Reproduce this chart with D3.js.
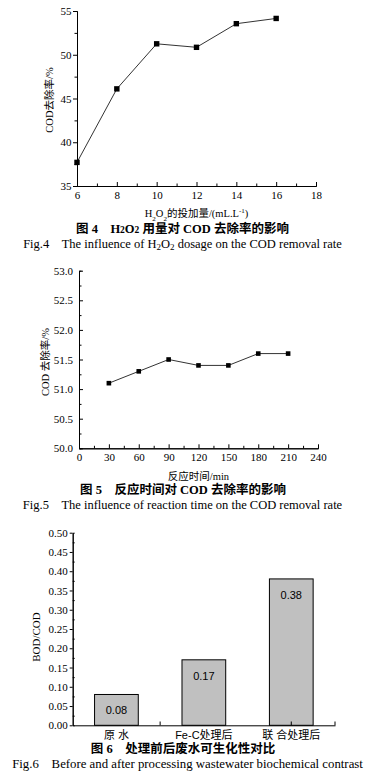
<!DOCTYPE html>
<html><head><meta charset="utf-8">
<script src="https://cdn.jsdelivr.net/npm/d3@7"></script>
<style>
body{margin:0;background:#fff;}
svg{display:block;}
text{font-family:"Liberation Serif","Times New Roman","Noto Sans CJK SC",serif;fill:#000;}
.cjk{font-family:"Liberation Serif","Noto Sans CJK SC",serif;}
.sans{font-family:"Liberation Sans",Arial,"Noto Sans CJK SC",sans-serif;}
</style></head>
<body>
<script>
// ---- data ----
const dosage = [6, 8, 10, 12, 14, 16];
const dosageRemoval = [37.7, 46.1, 51.25, 50.85, 53.55, 54.15];
const dosageXTicks = [6, 8, 10, 12, 14, 16, 18];
const dosageYTicks = [35, 40, 45, 50, 55];

const time = [30, 60, 90, 120, 150, 180, 210];
const timeRemoval = [51.1, 51.3, 51.5, 51.4, 51.4, 51.6, 51.6];
const timeXTicks = [0, 30, 60, 90, 120, 150, 180, 210, 240];
const timeYTicks = [50.0, 50.5, 51.0, 51.5, 52.0, 52.5, 53.0];

const stages = ["原 水", "Fe-C处理后", "联 合处理后"];
const bodCod = [0.08, 0.17, 0.38];
const ratioYTicks = [0, 0.05, 0.10, 0.15, 0.20, 0.25, 0.30, 0.35, 0.40, 0.45, 0.50];

const W = 367, H = 777;
const svg = d3.select("body").append("svg").attr("width", W).attr("height", H);

function styleAxis(g){
  g.select(".domain").attr("stroke","#000").attr("stroke-width",1);
  g.selectAll(".tick line").attr("stroke","#000");
  g.selectAll("text").attr("font-size",11).attr("fill","#000");
  g.attr("font-family",null);
}

// ================= Chart 1 =================
{
  const x = d3.scaleLinear().domain([6,18]).range([77,316]);
  const y = d3.scaleLinear().domain([35,55]).range([186,11]);
  svg.append("g").attr("transform","translate(0,186)")
    .call(d3.axisBottom(x).tickValues(d3.range(7,18,2)).tickSize(-2.5).tickFormat(""))
    .call(styleAxis);
  svg.append("g").attr("transform","translate(77,0)")
    .call(d3.axisLeft(y).tickValues([37.5,42.5,47.5,52.5]).tickSize(2.5).tickFormat(""))
    .call(styleAxis);
  svg.append("g").attr("transform","translate(0,186)")
    .call(d3.axisBottom(x).tickValues(dosageXTicks).tickSize(-4).tickPadding(5).tickSizeOuter(0))
    .call(styleAxis);
  svg.append("g").attr("transform","translate(77,0)")
    .call(d3.axisLeft(y).tickValues(dosageYTicks).tickSize(4).tickPadding(1.5).tickSizeOuter(0))
    .call(styleAxis);
  const line = d3.line().x((d,i)=>x(dosage[i])).y(d=>y(d));
  svg.append("path").datum(dosageRemoval).attr("d",line).attr("fill","none").attr("stroke","#333").attr("stroke-width",1);
  svg.append("g").selectAll("rect").data(dosageRemoval).join("rect")
    .attr("x",(d,i)=>x(dosage[i])-2.7).attr("y",d=>y(d)-2.7).attr("width",5.4).attr("height",5.4).attr("fill","#000");
  svg.append("text").attr("class","cjk").attr("transform","translate(53,100) rotate(-90)")
    .attr("text-anchor","middle").attr("font-size",10.5).text("COD去除率/%");
  const xl = svg.append("text").attr("class","cjk").attr("x",196.5).attr("y",217).attr("text-anchor","middle").attr("font-size",10.5);
  xl.append("tspan").text("H");
  xl.append("tspan").attr("baseline-shift","sub").attr("font-size",7).text("2");
  xl.append("tspan").text("O");
  xl.append("tspan").attr("baseline-shift","sub").attr("font-size",7).text("2");
  xl.append("tspan").text("的投加量/(mL.L");
  xl.append("tspan").attr("baseline-shift","super").attr("font-size",7).text("-1");
  xl.append("tspan").text(")");
  const c1 = svg.append("text").attr("class","cjk").attr("x",182.5).attr("y",232.5).attr("text-anchor","middle").attr("font-size",12.5).attr("font-weight","bold");
  c1.append("tspan").text("图 4\u00a0\u00a0\u00a0\u00a0H");
  c1.append("tspan").attr("font-size",9.5).text("2");
  c1.append("tspan").text("O");
  c1.append("tspan").attr("font-size",9.5).text("2");
  c1.append("tspan").text(" 用量对 COD 去除率的影响");
  const f1 = svg.append("text").attr("x",182.5).attr("y",248).attr("text-anchor","middle").attr("font-size",12.5);
  f1.append("tspan").text("Fig.4\u00a0\u00a0\u00a0\u00a0The influence of H");
  f1.append("tspan").attr("font-size",9).attr("dy",2).text("2");
  f1.append("tspan").attr("dy",-2).text("O");
  f1.append("tspan").attr("font-size",9).attr("dy",2).text("2");
  f1.append("tspan").attr("dy",-2).text(" dosage on the COD removal rate");
}

// ================= Chart 2 =================
{
  const x = d3.scaleLinear().domain([0,240]).range([79,318]);
  const y = d3.scaleLinear().domain([50,53]).range([448.3,270.7]);
  svg.append("g").attr("transform","translate(0,448.3)")
    .call(d3.axisBottom(x).tickValues(d3.range(15,240,30)).tickSize(-2.5).tickFormat(""))
    .call(styleAxis);
  svg.append("g").attr("transform","translate(79,0)")
    .call(d3.axisLeft(y).tickValues([50.25,50.75,51.25,51.75,52.25,52.75]).tickSize(-2.5).tickFormat(""))
    .call(styleAxis);
  svg.append("g").attr("transform","translate(0,448.3)")
    .call(d3.axisBottom(x).tickValues(timeXTicks).tickSize(-4).tickPadding(5).tickSizeOuter(0))
    .call(styleAxis);
  svg.append("g").attr("transform","translate(79,0)")
    .call(d3.axisLeft(y).tickValues(timeYTicks).tickSize(-4).tickPadding(6).tickFormat(d3.format(".1f")).tickSizeOuter(0))
    .call(styleAxis);
  const line = d3.line().x((d,i)=>x(time[i])).y(d=>y(d));
  svg.append("path").datum(timeRemoval).attr("d",line).attr("fill","none").attr("stroke","#333").attr("stroke-width",1);
  svg.append("g").selectAll("rect").data(timeRemoval).join("rect")
    .attr("x",(d,i)=>x(time[i])-2.3).attr("y",d=>y(d)-2.3).attr("width",4.6).attr("height",4.6).attr("fill","#000");
  svg.append("text").attr("class","cjk").attr("transform","translate(49,362) rotate(-90)")
    .attr("text-anchor","middle").attr("font-size",10.5).text("COD 去除率/%");
  svg.append("text").attr("class","cjk").attr("x",198.5).attr("y",480).attr("text-anchor","middle").attr("font-size",10.5).text("反应时间/min");
  svg.append("text").attr("class","cjk").attr("x",183).attr("y",493.5).attr("text-anchor","middle").attr("font-size",12.5).attr("font-weight","bold")
    .text("图 5\u00a0\u00a0\u00a0\u00a0反应时间对 COD 去除率的影响");
  svg.append("text").attr("x",182.5).attr("y",509).attr("text-anchor","middle").attr("font-size",12.5)
    .text("Fig.5\u00a0\u00a0\u00a0\u00a0The influence of reaction time on the COD removal rate");
}

// ================= Chart 3 =================
{
  const x = d3.scaleBand().domain(stages).range([72.7,335]).paddingInner(0.5).paddingOuter(0.25);
  const y = d3.scaleLinear().domain([0,0.5]).range([725.3,532.7]);
  svg.append("g").attr("transform","translate(72.7,0)")
    .call(d3.axisLeft(y).tickValues(d3.range(0.025,0.5,0.05)).tickSize(-2).tickFormat(""))
    .call(styleAxis);
  svg.append("g").attr("transform","translate(72.7,0)")
    .call(d3.axisLeft(y).tickValues(ratioYTicks).tickSize(3).tickPadding(2).tickFormat(d3.format(".2f")).tickSizeOuter(0))
    .call(styleAxis);
  const bars = svg.append("g");
  bars.selectAll("rect").data(bodCod).join("rect")
    .attr("x",(d,i)=>x(stages[i])).attr("y",d=>y(d))
    .attr("width",x.bandwidth()).attr("height",d=>y(0)-y(d))
    .attr("fill","#c0c0c0").attr("stroke","#000").attr("stroke-width",1);
  bars.selectAll("text").data(bodCod).join("text").attr("class","sans")
    .attr("x",(d,i)=>x(stages[i])+x.bandwidth()/2).attr("y",d=>y(d)+20)
    .attr("text-anchor","middle").attr("font-size",11).text(d=>d3.format(".2f")(d));
  const step = x.step();
  const gx = svg.append("g").attr("transform","translate(0,725.3)")
    .call(d3.axisBottom(x).tickSize(0).tickPadding(6).tickSizeOuter(0))
    .call(styleAxis);
  gx.selectAll("text").attr("class","sans").attr("font-size",11);
  const tickPos = [x(stages[0]) + x.bandwidth() + (step - x.bandwidth())/2, x(stages[2]) + x.bandwidth()/2, 335];
  svg.append("g").selectAll("line").data(tickPos).join("line")
    .attr("x1",d=>d).attr("x2",d=>d).attr("y1",725.3).attr("y2",721.5).attr("stroke","#000");
  svg.append("text").attr("transform","translate(40,637) rotate(-90)")
    .attr("text-anchor","middle").attr("font-size",11).text("BOD/COD");
  svg.append("text").attr("class","cjk").attr("x",183).attr("y",753).attr("text-anchor","middle").attr("font-size",12.5).attr("font-weight","bold")
    .text("图 6\u00a0\u00a0\u00a0\u00a0处理前后废水可生化性对比");
  svg.append("text").attr("x",187.5).attr("y",768).attr("text-anchor","middle").attr("font-size",12.8)
    .text("Fig.6\u00a0\u00a0\u00a0\u00a0Before and after processing wastewater biochemical contrast");
}
</script>
</body></html>
